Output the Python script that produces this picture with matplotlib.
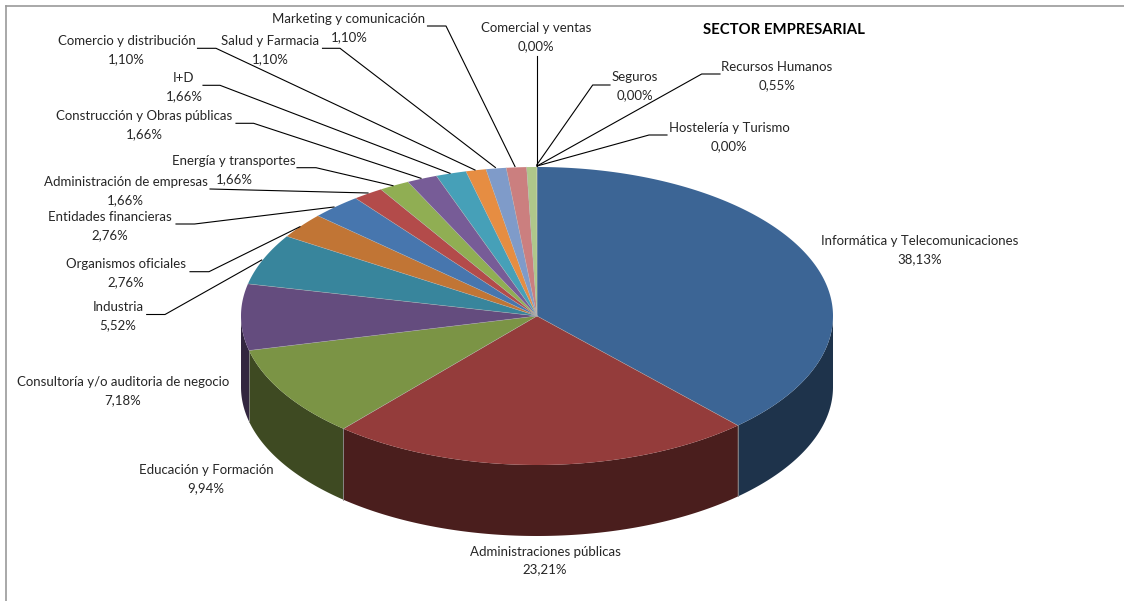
import matplotlib
matplotlib.use('Agg')
import matplotlib.pyplot as plt
from matplotlib.patches import Polygon
import numpy as np

plt.rcParams['font.family'] = ['Lato', 'DejaVu Sans']

# porcentajes por sector, en sentido horario desde las 12
sectores = ['Informática y Telecomunicaciones', 'Administraciones públicas', 'Educación y Formación',
            'Consultoría y/o auditoria de negocio', 'Industria', 'Organismos oficiales',
            'Entidades financieras', 'Administración de empresas', 'Energía y transportes',
            'Construcción y Obras públicas', 'I+D', 'Comercio y distribución', 'Salud y Farmacia',
            'Marketing y comunicación', 'Recursos Humanos', 'Hostelería y Turismo', 'Seguros',
            'Comercial y ventas']
valores = [38.13, 23.21, 9.94, 7.18, 5.52, 2.76, 2.76, 1.66, 1.66, 1.66, 1.66, 1.10, 1.10, 1.10,
           0.55, 0.00, 0.00, 0.00]
colores = ['#3C6595', '#943C3B', '#7B9445', '#644C7E', '#38859C', '#C17535', '#4776AE', '#B34B4A',
           '#90AE53', '#775C97', '#46A0B8', '#E68D42', '#7F9BC9', '#CB7F7F', '#AFC78A', '#3C6595',
           '#943C3B', '#7B9445']
oscuros = ['#1E334B', '#4A1E1D', '#3E4A22', '#32263F', '#1C434E', '#613B1B', '#243B57', '#5A2625',
           '#48572A', '#3C2E4C', '#23505C', '#734721', '#404E65', '#664040', '#586445', '#1E334B',
           '#4A1E1D', '#3E4A22']

# centro de cada etiqueta
etiqueta_x = [920, 545, 206, 123, 118, 126, 110, 125.7, 234, 144, 184, 126.5, 270, 349, 777, 729, 634.7, 536]
etiqueta_y = [250, 560.5, 479, 391, 316, 273, 226, 191, 170, 125, 87, 50, 50, 28, 76, 137, 86, 37]

# lineas guia: inicio, codo y punta en el quesito
guias = {
    'Industria': [(146.7, 314.5), (165, 314.5), (261.7, 260)],
    'Organismos oficiales': [(190, 271.7), (209, 271.7), (300, 226.7)],
    'Entidades financieras': [(176, 224), (194.6, 224), (334, 207)],
    'Administración de empresas': [(210, 189), (368, 193)],
    'Energía y transportes': [(297, 167.7), (316, 167.7), (393, 185.7)],
    'Construcción y Obras públicas': [(236, 123.3), (253.6, 123.3), (421, 178.3)],
    'I+D': [(203, 85.3), (220, 85.3), (450, 173.3)],
    'Comercio y distribución': [(197.5, 48.3), (216, 48.3), (475, 170)],
    'Salud y Farmacia': [(322.5, 48.3), (340, 48.3), (495.4, 167.5)],
    'Marketing y comunicación': [(427.5, 26), (446, 26), (515, 166.5)],
    'Comercial y ventas': [(536.7, 56), (536.7, 166)],
    'Seguros': [(610, 85), (592.7, 85), (536.7, 165)],
    'Recursos Humanos': [(720, 74), (701.7, 74), (537, 166)],
    'Hostelería y Turismo': [(667, 135), (649, 135), (537, 166)],
}

cx, cy, rx, ry, alto = 537, 316, 296, 149, 71


def borde(t):
    return cx + rx * np.sin(t), cy - ry * np.cos(t)


fig = plt.figure(figsize=(11.24, 6.01), dpi=100)
ax = fig.add_axes([0, 0, 1, 1])
ax.set_xlim(0, 1124)
ax.set_ylim(601, 0)
ax.axis('off')

angulos = np.deg2rad(np.cumsum([0] + valores) * 3.6)

# paredes laterales, solo la parte de delante
for i in range(len(valores)):
    a0 = max(angulos[i], np.pi / 2)
    a1 = min(angulos[i + 1], 3 * np.pi / 2)
    if a1 <= a0:
        continue
    t = np.linspace(a0, a1, 120)
    x, y = borde(t)
    pts = np.r_[np.c_[x, y], np.c_[x[::-1], y[::-1] + alto]]
    ax.add_patch(Polygon(pts, closed=True, fc=oscuros[i], ec='none', zorder=2))
    if angulos[i] > np.pi / 2:
        ax.plot([x[0], x[0]], [y[0], y[0] + alto], color='#8a8a8a', lw=0.6, zorder=3)

# tapa
for i in range(len(valores)):
    if valores[i] == 0:
        continue
    t = np.linspace(angulos[i], angulos[i + 1], 200)
    x, y = borde(t)
    pts = np.r_[[(cx, cy)], np.c_[x, y]]
    ax.add_patch(Polygon(pts, closed=True, fc=colores[i], ec='none', zorder=4))
    ax.plot([cx, x[0]], [cy, y[0]], color='#b0b0b0', lw=0.4, alpha=0.7, zorder=5)

for g in guias.values():
    xs, ys = zip(*g)
    ax.plot(xs, ys, color='black', lw=0.8, zorder=6)

# nombre y porcentaje van por separado, hay etiquetas muy juntas
for nom, v, x, y in zip(sectores, valores, etiqueta_x, etiqueta_y):
    pct = ('%.2f%%' % v).replace('.', ',')
    ax.text(x, y - 9, nom, ha='center', va='center', fontsize=9.5, color='#262626', zorder=7)
    ax.text(x, y + 9, pct, ha='center', va='center', fontsize=9.5, color='#262626', zorder=7)

ax.text(783.5, 30, 'SECTOR EMPRESARIAL', ha='center', va='center', fontsize=10.7, fontweight='bold',
        color='black')

# marco gris
ax.plot([6, 6], [601, 6], color='#9a9a9a', lw=1.2, clip_on=False)
ax.plot([6, 1124], [6, 6], color='#9a9a9a', lw=1.2, clip_on=False)

plt.savefig('out.png', dpi=100)
